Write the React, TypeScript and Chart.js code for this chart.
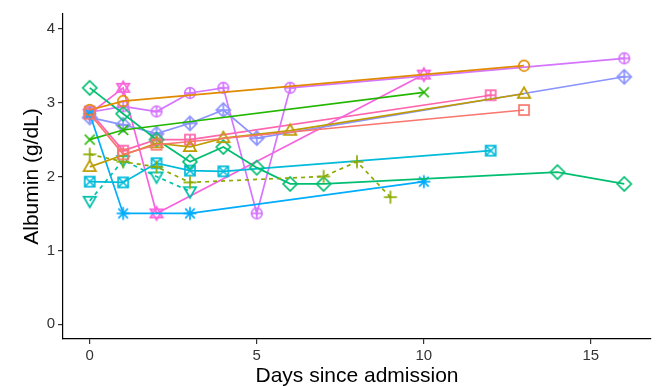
import React, { useEffect, useRef } from "react";
import { Chart, registerables } from "chart.js";

Chart.register(...registerables);

// ---- data ----
const p1Days = [0, 1, 2, 13];
const p1Alb = [2.85, 2.3, 2.43, 2.9];
const p2Days = [0, 1, 13];
const p2Alb = [2.9, 3.02, 3.5];
const p3Days = [0, 2, 3, 4, 6, 13];
const p3Alb = [2.13, 2.45, 2.4, 2.52, 2.62, 3.12];
const p4Days = [0, 1, 2, 3, 7, 8, 9];
const p4Alb = [2.3, 2.2, 2.13, 1.92, 2.0, 2.2, 1.72];
const p5Days = [0, 1, 10];
const p5Alb = [2.5, 2.63, 3.14];
const p6Days = [0, 1, 2, 3, 4, 5, 6, 7, 14, 16];
const p6Alb = [3.2, 2.85, 2.5, 2.2, 2.4, 2.12, 1.9, 1.9, 2.06, 1.9];
const p7Days = [0, 1, 2, 3];
const p7Alb = [1.67, 2.22, 2.0, 1.8];
const p8Days = [0, 1, 2, 3, 4, 12];
const p8Alb = [1.93, 1.92, 2.18, 2.08, 2.07, 2.35];
const p9Days = [0, 1, 3, 10];
const p9Alb = [2.85, 1.5, 1.5, 1.93];
const p10Days = [0, 1, 2, 3, 4, 5, 16];
const p10Alb = [2.8, 2.7, 2.58, 2.72, 2.9, 2.52, 3.35];
const p11Days = [0, 1, 2, 3, 4, 5, 6, 16];
const p11Alb = [2.87, 2.95, 2.88, 3.13, 3.2, 1.5, 3.2, 3.6];
const p12Days = [0, 1, 2, 10];
const p12Alb = [2.85, 3.2, 1.5, 3.38];
const p13Days = [0, 1, 2, 3, 12];
const p13Alb = [2.88, 2.35, 2.5, 2.5, 3.1];

const xTicks = [0, 5, 10, 15];
const yTicks = [0, 1, 2, 3, 4];

const seriesDays = [p1Days, p2Days, p3Days, p4Days, p5Days, p6Days, p7Days, p8Days, p9Days, p10Days, p11Days, p12Days, p13Days];
const seriesAlb = [p1Alb, p2Alb, p3Alb, p4Alb, p5Alb, p6Alb, p7Alb, p8Alb, p9Alb, p10Alb, p11Alb, p12Alb, p13Alb];
const seriesColors = ["#F8766D", "#E18A00", "#BE9C00", "#8CAB00", "#24B700", "#00BE70", "#00C1AB", "#00BBDA", "#00ACFC", "#8B93FF", "#D575FE", "#F962DD", "#FF65AC"];
const seriesShapes = ["square", "circle", "triangle", "plus", "x", "diamond", "downtri", "boxtimes", "asterisk", "diamondplus", "circleplus", "davidstar", "boxplus"];
const seriesDashed = [false, false, false, true, false, false, true, false, false, false, false, false, false];

function makeMarker(shape: string, color: string): HTMLCanvasElement {
  const c = document.createElement("canvas");
  c.width = 22;
  c.height = 22;
  const g = c.getContext("2d")!;
  g.translate(11, 11);
  g.strokeStyle = color;
  g.lineWidth = 1.7;
  const sq = (h: number) => g.strokeRect(-h, -h, 2 * h, 2 * h);
  const line = (a: number, b: number, cc: number, d: number) => {
    g.beginPath();
    g.moveTo(a, b);
    g.lineTo(cc, d);
    g.stroke();
  };
  const plus = (h: number) => {
    line(-h, 0, h, 0);
    line(0, -h, 0, h);
  };
  const cross = (h: number) => {
    line(-h, -h, h, h);
    line(-h, h, h, -h);
  };
  const tri = (down: boolean) => {
    const s = down ? -1 : 1;
    g.beginPath();
    g.moveTo(0, -6.5 * s);
    g.lineTo(6.2, 4.2 * s);
    g.lineTo(-6.2, 4.2 * s);
    g.closePath();
    g.stroke();
  };
  const diamond = (h: number) => {
    g.beginPath();
    g.moveTo(0, -h);
    g.lineTo(h, 0);
    g.lineTo(0, h);
    g.lineTo(-h, 0);
    g.closePath();
    g.stroke();
  };
  const circle = (r: number) => {
    g.beginPath();
    g.arc(0, 0, r, 0, Math.PI * 2);
    g.stroke();
  };
  switch (shape) {
    case "square": sq(5); break;
    case "circle": circle(5.3); break;
    case "triangle": tri(false); break;
    case "plus": plus(6.5); break;
    case "x": cross(5); break;
    case "diamond": diamond(7); break;
    case "downtri": tri(true); break;
    case "boxtimes": sq(5); cross(5); break;
    case "asterisk": plus(6.5); cross(4.8); break;
    case "diamondplus": diamond(7); plus(7); break;
    case "circleplus": circle(5.3); plus(5.3); break;
    case "davidstar": tri(false); tri(true); break;
    case "boxplus": sq(5); plus(5); break;
  }
  return c;
}

export default function App() {
  const ref = useRef<HTMLCanvasElement | null>(null);
  useEffect(() => {
    document.body.style.margin = "0";
    const datasets = seriesDays.map((days, i) => ({
      label: "P" + (i + 1),
      data: days.map((d, j) => ({ x: d, y: seriesAlb[i][j] })),
      borderColor: seriesColors[i],
      backgroundColor: seriesColors[i],
      borderWidth: 1.7,
      borderDash: seriesDashed[i] ? [4, 4] : [],
      pointStyle: makeMarker(seriesShapes[i], seriesColors[i]),
      pointRadius: 6,
      tension: 0,
    }));
    const chart = new Chart(ref.current!, {
      type: "line",
      data: { datasets },
      options: {
        animation: false,
        responsive: false,
        layout: { padding: { top: 14, right: 8, left: 0, bottom: 0 } },
        plugins: { legend: { display: false }, tooltip: { enabled: false } },
        scales: {
          x: {
            type: "linear",
            min: -0.8,
            max: 16.8,
            afterBuildTicks: (s: any) => {
              s.ticks = xTicks.map((v) => ({ value: v }));
            },
            afterFit: (s: any) => {
              s.height = 47;
            },
            border: { display: true, color: "#000", width: 1.2 },
            grid: { display: true, drawOnChartArea: false, drawTicks: true, tickLength: 5, color: "#333", lineWidth: 1.2 },
            ticks: { color: "#333", font: { family: "Liberation Sans, Arial", size: 15 }, padding: 3, maxRotation: 0 },
            title: { display: true, text: "Days since admission", color: "#000", font: { family: "Liberation Sans, Arial", size: 21 }, padding: { top: 0, bottom: -3 } },
          },
          y: {
            type: "linear",
            min: -0.2,
            max: 4.2,
            afterBuildTicks: (s: any) => {
              s.ticks = yTicks.map((v) => ({ value: v }));
            },
            afterFit: (s: any) => {
              s.width = 63;
            },
            border: { display: true, color: "#000", width: 1.2 },
            grid: { display: true, drawOnChartArea: false, drawTicks: true, tickLength: 5, color: "#333", lineWidth: 1.2 },
            ticks: { color: "#333", font: { family: "Liberation Sans, Arial", size: 15 }, padding: 3 },
            title: { display: true, text: "Albumin (g/dL)", color: "#000", font: { family: "Liberation Sans, Arial", size: 21 }, padding: { top: 20, bottom: 0 } },
          },
        },
      },
    });
    return () => chart.destroy();
  }, []);
  return (
    <div style={{ position: "fixed", left: 0, top: 0, width: 659, height: 386, background: "#fff" }}>
      <canvas ref={ref} width={659} height={386} style={{ width: 659, height: 386, display: "block" }} />
    </div>
  );
}
